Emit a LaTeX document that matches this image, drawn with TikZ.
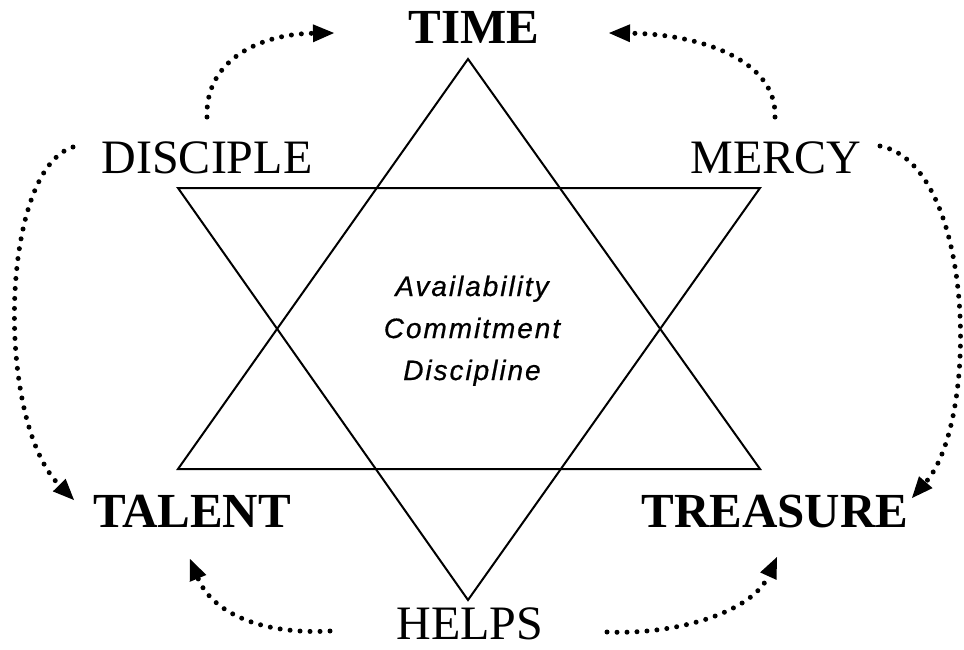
\documentclass[tikz,border=0pt]{standalone}
\usepackage{fontspec}
\setmainfont{Liberation Serif}
\newfontfamily\centerfont[LetterSpace=7,FakeBold=0.6]{Liberation Sans}
\usetikzlibrary{arrows.meta}
\tikzset{
  lab/.style={anchor=base, inner sep=0pt, font=\fontsize{48}{50}\selectfont},
  blab/.style={anchor=base, inner sep=0pt, font=\fontsize{49}{50}\selectfont\bfseries},
  clab/.style={anchor=base, inner sep=0pt, font=\centerfont\itshape\fontsize{28}{30}\selectfont},
  star/.style={line width=2pt, line join=miter},
  dotarrow/.style={line width=5pt, line cap=round, dash pattern=on 0pt off 10pt,
    -{Triangle[length=21pt,width=18pt,line width=0pt]}},
}
\begin{document}
\begin{tikzpicture}[x=1pt,y=-1pt]
\useasboundingbox (0,0) rectangle (964,649);
% star
\coordinate (uA) at (468,59);
\coordinate (uB) at (178,469);
\coordinate (uC) at (760,469);
\coordinate (dA) at (178,188);
\coordinate (dB) at (760,188);
\coordinate (dC) at (468,600);
\draw[star] (uA) -- (uB) -- (uC) -- cycle;
\draw[star] (dA) -- (dB) -- (dC) -- cycle;
% labels
\node[blab] (time) at (474,43) {TIME};
\node[lab] (disciple) at (207,173) {DISCIPLE};
\node[lab] (mercy) at (776,173) {MERCY};
\node[blab] (talent) at (192,527) {TALENT};
\node[blab] (treasure) at (775,527) {TREASURE};
\node[lab] (helps) at (470,639) {HELPS};
\node[clab] (c1) at (472,296) {Availability};
\node[clab] (c2) at (472,338) {Commitment};
\node[clab] (c3) at (472,380) {Discipline};
% arrow endpoints
\coordinate (s1) at (207,117);
\coordinate (e1) at (334,33);
\coordinate (s2) at (775,117);
\coordinate (e2) at (609,33);
\coordinate (s3) at (73,147);
\coordinate (e3) at (74,500);
\coordinate (s4) at (880,146);
\coordinate (e4) at (912,498);
\coordinate (s5) at (330,631);
\coordinate (e5) at (190,559);
\coordinate (s6) at (607,632);
\coordinate (e6) at (777,557);
\draw[dotarrow] (s1) .. controls (205,60) and (260,34) .. (e1);
\draw[dotarrow] (s2) .. controls (777,60) and (700,34) .. (e2);
\draw[dotarrow] (s3) .. controls (0,170) and (-5,420) .. (e3);
\draw[dotarrow] (s4) .. controls (975,165) and (980,420) .. (e4);
\draw[dotarrow] (s5) .. controls (260,635) and (212,612) .. (e5);
\draw[dotarrow] (s6) .. controls (677,635) and (752,612) .. (e6);
\end{tikzpicture}
\end{document}
